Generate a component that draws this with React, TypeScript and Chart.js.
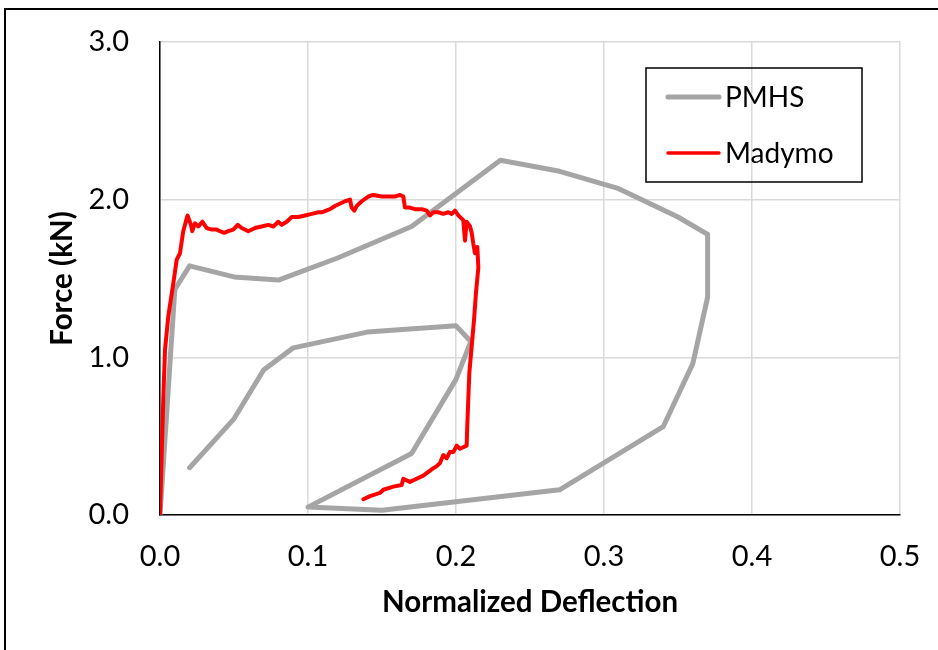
import React, { useEffect, useRef } from "react";
import { Chart, registerables } from "chart.js";

Chart.register(...registerables);

const seriesNames = ["PMHS", "Madymo"];

const pmhsX = [0.0, 0.01, 0.02, 0.05, 0.08, 0.12, 0.17, 0.23, 0.27, 0.31, 0.35, 0.37, 0.37, 0.36, 0.34, 0.27, 0.15, 0.10, 0.17, 0.20, 0.21, 0.20, 0.14, 0.09, 0.07, 0.05, 0.02];
const pmhsY = [0.0, 1.43, 1.58, 1.51, 1.49, 1.63, 1.83, 2.25, 2.18, 2.07, 1.89, 1.78, 1.38, 0.96, 0.56, 0.16, 0.03, 0.05, 0.39, 0.86, 1.10, 1.20, 1.16, 1.06, 0.92, 0.61, 0.30];

const madymoX = [0.0, 0.0022, 0.0034, 0.0056, 0.009, 0.0113, 0.0135, 0.0157, 0.0186, 0.0209, 0.0218, 0.0236, 0.0259, 0.0286, 0.0316, 0.0349, 0.0383, 0.0405, 0.0434, 0.0461, 0.0495, 0.0525, 0.0552, 0.0597, 0.0642, 0.0687, 0.0732, 0.0766, 0.0799, 0.0822, 0.0856, 0.089, 0.0934, 0.098, 0.1025, 0.107, 0.1093, 0.1149, 0.1182, 0.125, 0.1284, 0.1295, 0.1313, 0.1329, 0.1363, 0.1407, 0.1441, 0.1498, 0.1543, 0.1588, 0.1622, 0.1644, 0.1655, 0.1689, 0.1723, 0.1768, 0.1802, 0.1824, 0.1847, 0.188, 0.1914, 0.1948, 0.1971, 0.1993, 0.2016, 0.2049, 0.2061, 0.2072, 0.2095, 0.2106, 0.2117, 0.2128, 0.2144, 0.2151, 0.2135, 0.2122, 0.2106, 0.209, 0.2083, 0.2076, 0.2072, 0.2049, 0.2027, 0.2005, 0.1982, 0.1959, 0.1937, 0.1914, 0.1892, 0.187, 0.1836, 0.1779, 0.1734, 0.1689, 0.1644, 0.1633, 0.1576, 0.1509, 0.1486, 0.1419, 0.1374];
const madymoY = [0.0, 0.73, 1.05, 1.26, 1.47, 1.62, 1.66, 1.8, 1.9, 1.84, 1.8, 1.85, 1.83, 1.86, 1.82, 1.81, 1.81, 1.8, 1.79, 1.8, 1.81, 1.84, 1.82, 1.8, 1.82, 1.83, 1.84, 1.83, 1.86, 1.84, 1.86, 1.89, 1.89, 1.9, 1.91, 1.92, 1.92, 1.94, 1.96, 1.99, 2.0, 1.95, 1.93, 1.96, 1.99, 2.02, 2.03, 2.02, 2.02, 2.02, 2.03, 2.02, 1.95, 1.95, 1.94, 1.94, 1.93, 1.9, 1.92, 1.92, 1.91, 1.92, 1.91, 1.93, 1.9, 1.87, 1.74, 1.86, 1.83, 1.79, 1.72, 1.66, 1.7, 1.57, 1.41, 1.24, 1.07, 0.9, 0.73, 0.56, 0.44, 0.43, 0.42, 0.44, 0.4, 0.4, 0.36, 0.38, 0.33, 0.31, 0.29, 0.25, 0.23, 0.21, 0.23, 0.19, 0.18, 0.16, 0.14, 0.12, 0.1];

const xTickLabels = ["0.0", "0.1", "0.2", "0.3", "0.4", "0.5"];
const yTickLabels = ["0.0", "1.0", "2.0", "3.0"];

const FONT = "Lato, 'Open Sans', sans-serif";
const TICK_SIZE = 29;
const TITLE_SIZE = 29.5;
const LEGEND_SIZE = 28;

const boxLegend = {
  id: "boxLegend",
  afterDraw(chart: any) {
    const ctx = chart.ctx as CanvasRenderingContext2D;
    ctx.save();
    ctx.strokeStyle = "#000";
    ctx.lineWidth = 1.5;
    ctx.strokeRect(646, 68, 216, 114);
    const rows = [97, 153];
    chart.data.datasets.forEach((ds: any, i: number) => {
      const y = rows[i];
      ctx.beginPath();
      ctx.strokeStyle = ds.borderColor;
      ctx.lineWidth = i === 0 ? 5 : 3.5;
      ctx.lineCap = "round";
      ctx.moveTo(668, y);
      ctx.lineTo(719, y);
      ctx.stroke();
      ctx.fillStyle = "#000";
      ctx.font = `${LEGEND_SIZE}px ${FONT}`;
      ctx.textBaseline = "middle";
      ctx.textAlign = "left";
      ctx.fillText(ds.label, 725, y + 1);
    });
    ctx.restore();
  },
};

export default function App() {
  const ref = useRef<HTMLCanvasElement | null>(null);
  useEffect(() => {
    if (!ref.current) return;
    const chart = new Chart(ref.current, {
      type: "scatter",
      data: {
        datasets: [
          {
            label: seriesNames[0],
            data: pmhsX.map((x, i) => ({ x, y: pmhsY[i] })),
            showLine: true,
            borderColor: "#a5a5a5",
            backgroundColor: "#a5a5a5",
            borderWidth: 5,
            pointRadius: 0,
            borderJoinStyle: "round",
            borderCapStyle: "round",
            order: 1,
          },
          {
            label: seriesNames[1],
            data: madymoX.map((x, i) => ({ x, y: madymoY[i] })),
            showLine: true,
            borderColor: "#ff0000",
            backgroundColor: "#ff0000",
            borderWidth: 4,
            pointRadius: 0,
            borderJoinStyle: "round",
            borderCapStyle: "round",
            order: 0,
          },
        ],
      },
      options: {
        animation: false,
        responsive: false,
        layout: { padding: { left: 0, top: 42, right: 38, bottom: 0 } },
        plugins: { legend: { display: false }, tooltip: { enabled: false } },
        scales: {
          x: {
            type: "linear",
            min: 0,
            max: 0.5,
            ticks: {
              stepSize: 0.1,
              callback: (v: any) => xTickLabels[Math.round(Number(v) * 10)] ?? "",
              padding: 24,
              color: "#000",
              font: { family: FONT, size: TICK_SIZE },
              maxRotation: 0,
            },
            grid: { color: "#d9d9d9", lineWidth: 1.5, drawTicks: false },
            border: { color: "#000", width: 1.5 },
            title: {
              display: true,
              text: "Normalized Deflection",
              color: "#000",
              font: { family: FONT, size: TITLE_SIZE, weight: "bold" },
              padding: { top: 0, bottom: 30 },
            },
            afterFit: (s: any) => {
              s.height = 135;
              s.paddingLeft = 0;
              s.paddingRight = 0;
            },
          },
          y: {
            type: "linear",
            min: 0,
            max: 3,
            ticks: {
              stepSize: 1,
              callback: (v: any) => yTickLabels[Math.round(Number(v))] ?? "",
              padding: 31,
              color: "#000",
              font: { family: FONT, size: TICK_SIZE },
            },
            grid: { color: "#d9d9d9", lineWidth: 1.5, drawTicks: false },
            border: { color: "#000", width: 1.5 },
            title: {
              display: true,
              text: "Force (kN)",
              color: "#000",
              font: { family: FONT, size: TITLE_SIZE, weight: "bold" },
              padding: { top: 45, bottom: 0 },
            },
            afterFit: (s: any) => {
              s.width = 160;
              s.paddingTop = 0;
              s.paddingBottom = 0;
            },
          },
        },
      },
      plugins: [boxLegend],
    });
    return () => chart.destroy();
  }, []);

  return (
    <div style={{ position: "fixed", left: 0, top: 0, width: 938, height: 650, overflow: "hidden", background: "#fff" }}>
      <canvas ref={ref} width={938} height={650} style={{ position: "absolute", left: 0, top: 0 }} />
      <div style={{ position: "absolute", left: 4, top: 8, width: 1000, height: 1000, border: "2px solid #000", pointerEvents: "none" }} />
    </div>
  );
}
